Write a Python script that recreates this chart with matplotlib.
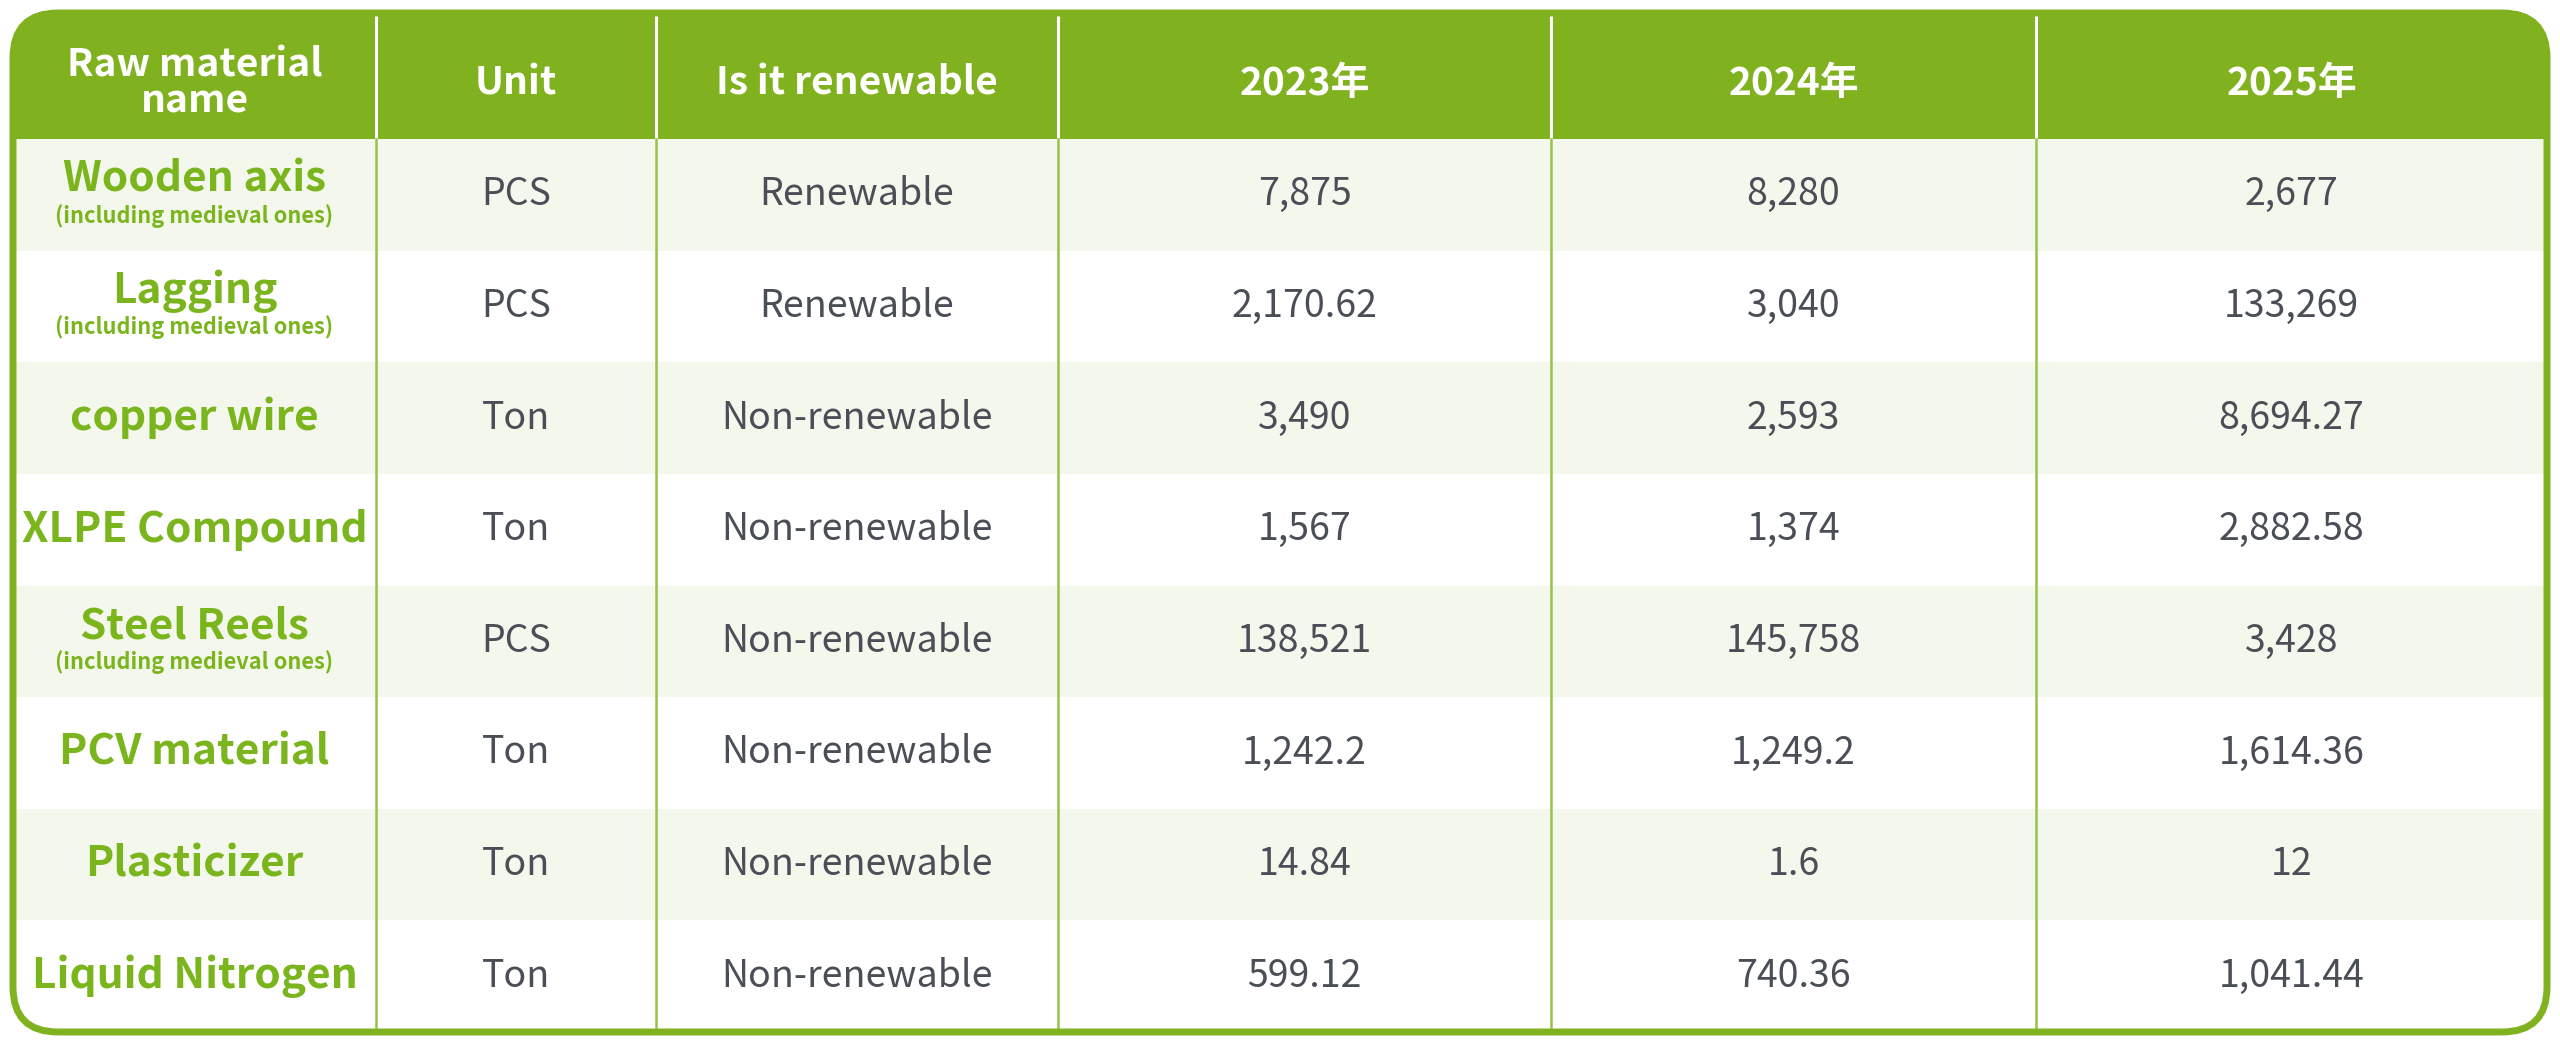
import matplotlib
matplotlib.use("Agg")
import matplotlib.pyplot as plt
from matplotlib.patches import FancyBboxPatch, Rectangle

plt.rcParams['font.family'] = ['Noto Sans CJK SC', 'DejaVu Sans']

# Table content
headers = ["Raw material\nname", "Unit", "Is it renewable", "2023年", "2024年", "2025年"]
names = ["Wooden axis", "Lagging", "copper wire", "XLPE Compound",
         "Steel Reels", "PCV material", "Plasticizer", "Liquid Nitrogen"]
notes = ["(including medieval ones)", "(including medieval ones)", "", "",
         "(including medieval ones)", "", "", ""]
units = ["PCS", "PCS", "Ton", "Ton", "PCS", "Ton", "Ton", "Ton"]
renewable = ["Renewable", "Renewable", "Non-renewable", "Non-renewable",
             "Non-renewable", "Non-renewable", "Non-renewable", "Non-renewable"]
y2023 = ["7,875", "2,170.62", "3,490", "1,567", "138,521", "1,242.2", "14.84", "599.12"]
y2024 = ["8,280", "3,040", "2,593", "1,374", "145,758", "1,249.2", "1.6", "740.36"]
y2025 = ["2,677", "133,269", "8,694.27", "2,882.58", "3,428", "1,614.36", "12", "1,041.44"]

GREEN = "#80b220"
TEXT_GREEN = "#7ab51d"
DARK = "#4a4e57"
LIGHT = "#f4f8ec"
LINE = "#95c34a"

W, H = 2560, 1047
fig = plt.figure(figsize=(W / 100, H / 100), dpi=100)
ax = fig.add_axes([0, 0, 1, 1])
ax.set_xlim(0, W)
ax.set_ylim(H, 0)
ax.axis("off")

left, right, top, bottom = 13, 2547, 13, 1032
cols = [left, 376, 656, 1058, 1551, 2036, right]
head_bot = 139
row_h = (bottom - head_bot) / len(names)

# outer frame (used as clip path)
frame = FancyBboxPatch((left, top), right - left, bottom - top,
                       boxstyle="round,pad=0,rounding_size=45",
                       fc="white", ec="none", zorder=0)
ax.add_patch(frame)

hdr = Rectangle((left, top), right - left, head_bot - top, fc=GREEN, ec="none", zorder=1)
ax.add_patch(hdr)
hdr.set_clip_path(frame)

for i in range(len(names)):
    y0 = head_bot + i * row_h
    if i % 2 == 0:
        r = Rectangle((left, y0), right - left, row_h, fc=LIGHT, ec="none", zorder=1)
        ax.add_patch(r)
        r.set_clip_path(frame)

# vertical separators
for x in cols[1:-1]:
    ax.plot([x, x], [top, head_bot], color="white", lw=2.2, zorder=2)
    ax.plot([x, x], [head_bot, bottom], color=LINE, lw=1.8, zorder=2)

border = FancyBboxPatch((left, top), right - left, bottom - top,
                        boxstyle="round,pad=0,rounding_size=45",
                        fc="none", ec=GREEN, lw=5, zorder=5)
ax.add_patch(border)

centers = [(cols[j] + cols[j + 1]) / 2 for j in range(len(cols) - 1)]

# header texts
for j, h in enumerate(headers):
    ax.text(centers[j], (top + head_bot) / 2 + 7, h, ha="center", va="center",
            color="white", fontsize=28, fontweight="bold", linespacing=0.9, zorder=3)

# body
for i in range(len(names)):
    yc = head_bot + (i + 0.5) * row_h
    if notes[i]:
        ax.text(centers[0], yc - 15, names[i], ha="center", va="center",
                color=TEXT_GREEN, fontsize=30.5, fontweight="bold", zorder=3)
        ax.text(centers[0], yc + 21, notes[i], ha="center", va="center",
                color=TEXT_GREEN, fontsize=15.7, fontweight="bold", zorder=3)
    else:
        ax.text(centers[0], yc, names[i], ha="center", va="center",
                color=TEXT_GREEN, fontsize=30.5, fontweight="bold", zorder=3)
    for j, col in enumerate([units, renewable, y2023, y2024, y2025], start=1):
        ax.text(centers[j], yc, col[i], ha="center", va="center",
                color=DARK, fontsize=27, fontweight="light", zorder=3)

fig.savefig("out.png", dpi=100)
